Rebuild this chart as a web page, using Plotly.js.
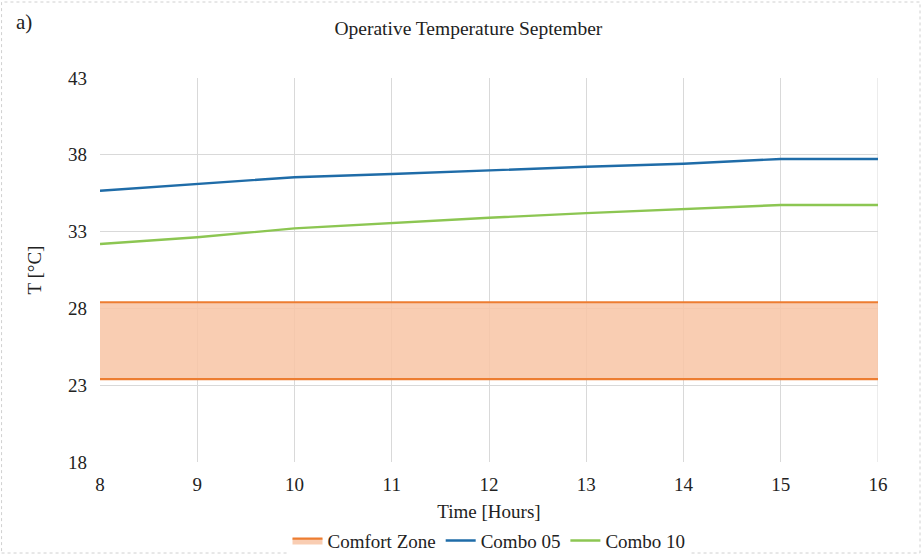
<!DOCTYPE html>
<html>
<head>
<meta charset="utf-8">
<script src="https://cdn.plot.ly/plotly-3.0.1.min.js"></script>
<style>
html,body{margin:0;padding:0;background:#fff;}
#chart{width:922px;height:555px;}
</style>
</head>
<body>
<div id="chart"></div>
<script>
const hours = [8, 9, 10, 11, 12, 13, 14, 15, 16];
const combo05 = [35.66, 36.08, 36.54, 36.75, 37.0, 37.22, 37.42, 37.73, 37.73];
const combo10 = [32.19, 32.63, 33.21, 33.56, 33.9, 34.2, 34.45, 34.73, 34.73];
const comfortLow = [23.4, 23.4, 23.4, 23.4, 23.4, 23.4, 23.4, 23.4, 23.4];
const comfortHigh = [28.4, 28.4, 28.4, 28.4, 28.4, 28.4, 28.4, 28.4, 28.4];
const yTicks = [18, 23, 28, 33, 38, 43];

const serif = "Liberation Serif, Times New Roman, serif";

const traces = [
  {x: hours, y: comfortLow, mode: 'lines', line: {color: '#ED7D31', width: 2.2},
   showlegend: false, hoverinfo: 'skip'},
  {x: hours, y: comfortHigh, mode: 'lines', fill: 'tonexty', fillcolor: 'rgba(248,196,164,0.85)',
   line: {color: '#ED7D31', width: 2.2}, name: 'Comfort Zone'},
  {x: hours, y: combo05, mode: 'lines', line: {color: '#1F6CA8', width: 2.4}, name: 'Combo 05'},
  {x: hours, y: combo10, mode: 'lines', line: {color: '#8CC652', width: 2.4}, name: 'Combo 10'}
];

const layout = {
  width: 922, height: 555,
  margin: {l: 100, r: 44, t: 78, b: 93, autoexpand: false},
  paper_bgcolor: '#fff', plot_bgcolor: '#fff',
  font: {family: serif, color: '#222', size: 18},
  title: {text: 'Operative Temperature September', x: 0.508, xanchor: 'center', y: 0.95, yanchor: 'middle',
          font: {family: serif, size: 19.5, color: '#222'}},
  xaxis: {range: [8, 16], tickvals: hours, showgrid: true, gridcolor: '#d9d9d9', gridwidth: 1,
          zeroline: false, showline: false, ticks: '', tickfont: {size: 19}, ticklabelstandoff: 9,
          automargin: false,
          title: {text: 'Time [Hours]', font: {size: 19}, standoff: 10}},
  yaxis: {range: [18, 43], tickvals: yTicks, showgrid: true, gridcolor: '#d9d9d9', gridwidth: 1,
          zeroline: false, showline: false, ticks: '', tickfont: {size: 19}, ticklabelstandoff: 12,
          automargin: false,
          title: {text: 'T [°C]', font: {size: 19}, standoff: 21}},
  legend: {orientation: 'h', x: 0.5, xanchor: 'center', y: -0.205, yanchor: 'middle', traceorder: 'normal',
           font: {size: 19}, tracegroupgap: 0},
  showlegend: true,
  shapes: [
    {type: 'rect', xref: 'paper', yref: 'paper', x0: -100/778 + 0.002, x1: 1 + 42/778, y0: -91/384, y1: 1 + 76/384,
     line: {color: '#d0d0d0', width: 1, dash: 'dot'}, fillcolor: 'rgba(0,0,0,0)', layer: 'below'},
    {type: 'line', xref: 'x', yref: 'y', x0: 16, x1: 16, y0: 18, y1: 43, line: {color: '#d9d9d9', width: 1}, layer: 'below'}
  ],
  annotations: [
    {text: 'a)', xref: 'paper', yref: 'paper', x: -100/778 + 24/778, y: 1 + 56/384, xanchor: 'center', yanchor: 'middle',
     showarrow: false, font: {family: serif, size: 21, color: '#222'}}
  ]
};

Plotly.newPlot('chart', traces, layout, {displayModeBar: false, staticPlot: true});
</script>
</body>
</html>
